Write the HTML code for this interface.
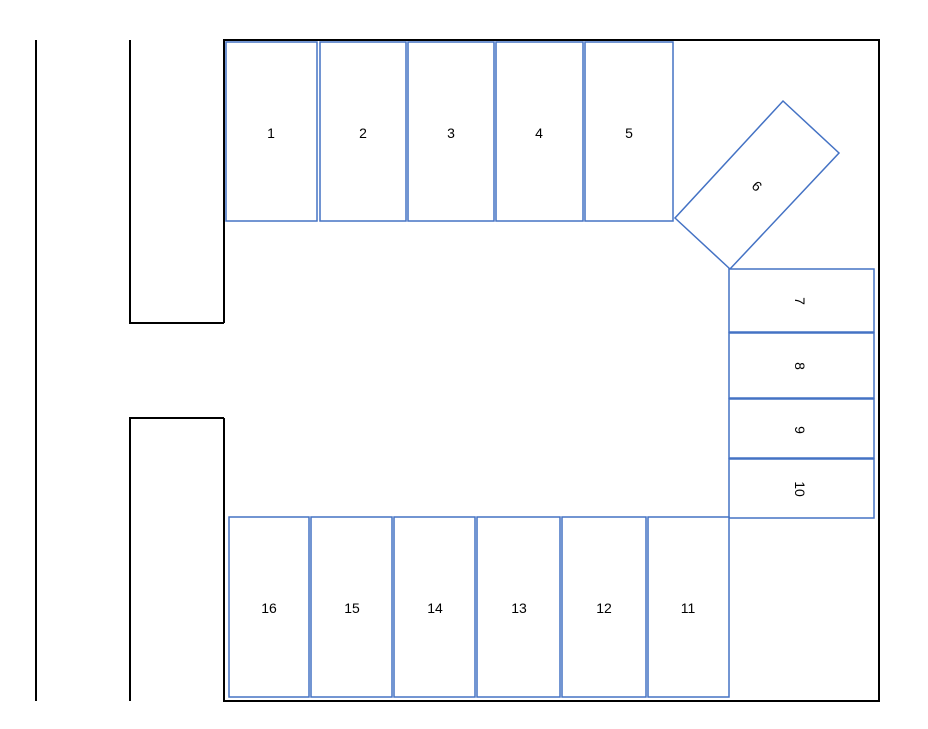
<!DOCTYPE html>
<html><head><meta charset="utf-8"><style>html,body{margin:0;padding:0;background:#fff}svg{display:block}</style></head>
<body>
<svg width="928" height="729" xmlns="http://www.w3.org/2000/svg" font-family="Liberation Sans, sans-serif" font-size="14" text-anchor="middle">
<g stroke="#000" stroke-width="2" fill="none">
<line x1="36" y1="40" x2="36" y2="701"/>
<polyline points="130,40 130,323 224,323"/>
<polyline points="224,40 224,323"/>
<polyline points="130,701 130,418 224,418"/>
<polyline points="224,418 224,701 879,701 879,40 223,40"/>
</g>
<g stroke="#4472c4" stroke-width="1.5" fill="#fff">
<rect x="226" y="42" width="91" height="179"/>
<rect x="320" y="42" width="86" height="179"/>
<rect x="408" y="42" width="86" height="179"/>
<rect x="496" y="42" width="87" height="179"/>
<rect x="585" y="42" width="88" height="179"/>
<polygon points="783,101 839,153 730,269 675,218"/>
<rect x="729" y="269" width="145" height="63"/>
<rect x="729" y="333" width="145" height="65"/>
<rect x="729" y="399" width="145" height="59"/>
<rect x="729" y="459" width="145" height="59"/>
<rect x="229" y="517" width="80" height="180"/>
<rect x="311" y="517" width="81" height="180"/>
<rect x="394" y="517" width="81" height="180"/>
<rect x="477" y="517" width="83" height="180"/>
<rect x="562" y="517" width="84" height="180"/>
<rect x="648" y="517" width="81" height="180"/>
</g>
<g fill="#000">
<text x="271" y="138">1</text>
<text x="363" y="138">2</text>
<text x="451" y="138">3</text>
<text x="539" y="138">4</text>
<text x="629" y="138">5</text>
<text transform="translate(757,186) rotate(43)" y="5">6</text>
<text transform="translate(800,301) rotate(90)" y="5">7</text>
<text transform="translate(800,366) rotate(90)" y="5">8</text>
<text transform="translate(800,430) rotate(90)" y="5">9</text>
<text transform="translate(800,489) rotate(90)" y="5">10</text>
<text x="269" y="613">16</text>
<text x="352" y="613">15</text>
<text x="435" y="613">14</text>
<text x="519" y="613">13</text>
<text x="604" y="613">12</text>
<text x="688" y="613">11</text>
</g>
</svg>
</body></html>
